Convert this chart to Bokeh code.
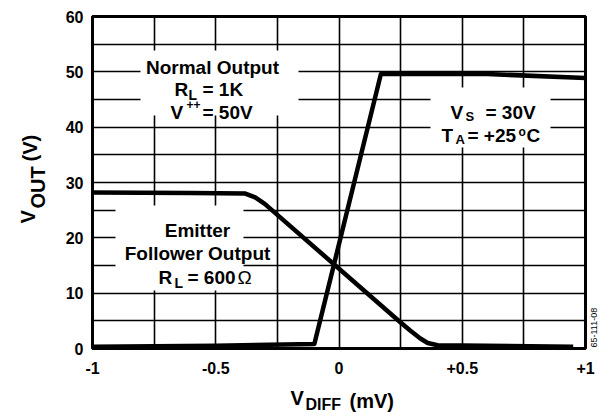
from bokeh.plotting import figure
from bokeh.models import Range1d, FixedTicker, Label, BoxAnnotation
from bokeh.embed import file_html
from bokeh.resources import INLINE
import math

# ---- data ----
vdiff_normal = [-1.0, -0.5, -0.10, 0.17, 0.60, 1.0]
vout_normal = [0.3, 0.5, 0.8, 49.6, 49.6, 48.9]

vdiff_emitter = [-1.0, -0.6, -0.38, -0.34, -0.30, 0.25, 0.29, 0.33, 0.36, 0.40, 0.95]
vout_emitter = [28.2, 28.1, 28.0, 27.3, 26.1, 4.7, 3.2, 1.8, 1.0, 0.6, 0.3]

x_ticks = [-1, -0.5, 0, 0.5, 1]
x_tick_labels = ["-1", "-0.5", "0", "+0.5", "+1"]
y_ticks = [0, 10, 20, 30, 40, 50, 60]
x_grid = [-1, -0.75, -0.5, -0.25, 0, 0.25, 0.5, 0.75, 1]
y_grid = [0, 5, 10, 15, 20, 25, 30, 35, 40, 45, 50, 55, 60]

FONT = "Liberation Sans"
W, H = 599, 417
# plot-area placement on the canvas (pixels)
PL, PR, PT, PB = 92, 585, 16, 348

x0, x1 = x_ticks[0], x_ticks[-1]
y0, y1 = y_ticks[0], y_ticks[-1]

def dx(px):
    return x0 + (px - PL) * (x1 - x0) / (PR - PL)

def dy(py):
    return y0 + (PB - py) * (y1 - y0) / (PB - PT)

p = figure(width=W, height=H, output_backend="svg", toolbar_location=None, title=None,
           x_range=Range1d(dx(0), dx(W)), y_range=Range1d(dy(H), dy(0)),
           min_border=0, min_border_left=0, min_border_right=0,
           min_border_top=0, min_border_bottom=0)
p.background_fill_color = "white"
p.border_fill_color = "white"
p.outline_line_color = None

p.xgrid.ticker = FixedTicker(ticks=x_grid)
p.ygrid.ticker = FixedTicker(ticks=y_grid)
p.xgrid.cross_bounds = (y0, y1)
p.ygrid.cross_bounds = (x0, x1)
for g in (p.xgrid, p.ygrid):
    g.grid_line_color = "black"
    g.grid_line_width = 1.6
    g.grid_line_alpha = 1.0

p.xaxis.ticker = FixedTicker(ticks=x_ticks)
p.xaxis.major_label_overrides = {t: l for t, l in zip(x_ticks, x_tick_labels)}
p.yaxis.ticker = FixedTicker(ticks=y_ticks)
p.xaxis.fixed_location = y0
p.yaxis.fixed_location = x0
for ax in (p.xaxis, p.yaxis):
    ax.axis_line_color = None
    ax.major_tick_line_color = None
    ax.minor_tick_line_color = None
    ax.major_tick_in = 0
    ax.major_tick_out = 0
    ax.major_label_text_font = FONT
    ax.major_label_text_font_style = "bold"
    ax.major_label_text_font_size = "16px"
    ax.major_label_text_color = "black"
p.xaxis.major_label_standoff = 13
p.yaxis.major_label_standoff = 9

p.line(vdiff_normal, vout_normal, line_color="black", line_width=4.5, line_join="round")
p.line(vdiff_emitter, vout_emitter, line_color="black", line_width=4.5, line_join="round")

# white boxes behind the annotations (break the grid lines)
for (l, r, t, b) in [(140, 298, 50, 115), (115, 243, 205, 290), (430, 550, 87, 147)]:
    p.add_layout(BoxAnnotation(left=dx(l), right=dx(r), top=dy(t), bottom=dy(b),
                               fill_color="white", fill_alpha=1.0, line_color=None))

# plot border
p.add_layout(BoxAnnotation(left=x0, right=x1, bottom=y0, top=y1, fill_alpha=0.0,
                           fill_color=None, line_color="black", line_width=3, line_alpha=1.0))

def txt(s, px, py, size=19, align="left", bold=True, angle=0.0):
    p.add_layout(Label(x=dx(px), y=dy(py), text=s, text_font=FONT,
                       text_font_size=f"{size}px",
                       text_font_style="bold" if bold else "normal",
                       text_align=align, text_baseline="alphabetic",
                       text_color="black", angle=angle))

# Normal Output block
txt("Normal Output", 212, 67, align="center")
txt("R", 174, 89)
txt("L", 188, 94, size=14)
txt("= 1K", 202, 89)
txt("V", 170, 112)
txt("++", 186, 104, size=12)
txt("= 50V", 202, 112)

# Emitter Follower block
txt("Emitter", 197, 230, align="center")
txt("Follower Output", 197, 253, align="center")
txt("R", 158, 277)
txt("L", 174, 282, size=14)
txt("= 600", 187, 277)
txt("\u03a9", 237, 277, bold=False)

# Conditions block
txt("V", 450, 112)
txt("S", 465, 116, size=13)
txt("= 30V", 485, 112)
txt("T", 441, 135)
txt("A", 455, 139, size=13)
txt("= +25", 467, 135)
txt("o", 518, 131, size=12)
txt("C", 526, 135)

# Y axis label (rotated)
half_pi = math.pi / 2
txt("V", 27, 223, size=20, angle=half_pi)
txt("OUT", 37, 208, size=20, angle=half_pi)
txt("(V)", 29, 161, size=20, angle=half_pi)

# X axis label (kept fully inside the canvas)
txt("V", 290, 397, size=20)
txt("DIFF", 305, 404, size=16)
txt("(mV)", 349, 400, size=20)

# figure code at right edge
txt("65-111-08", 593, 347, size=9, bold=False, angle=half_pi)

open("out.html", "w").write(file_html(p, INLINE))
